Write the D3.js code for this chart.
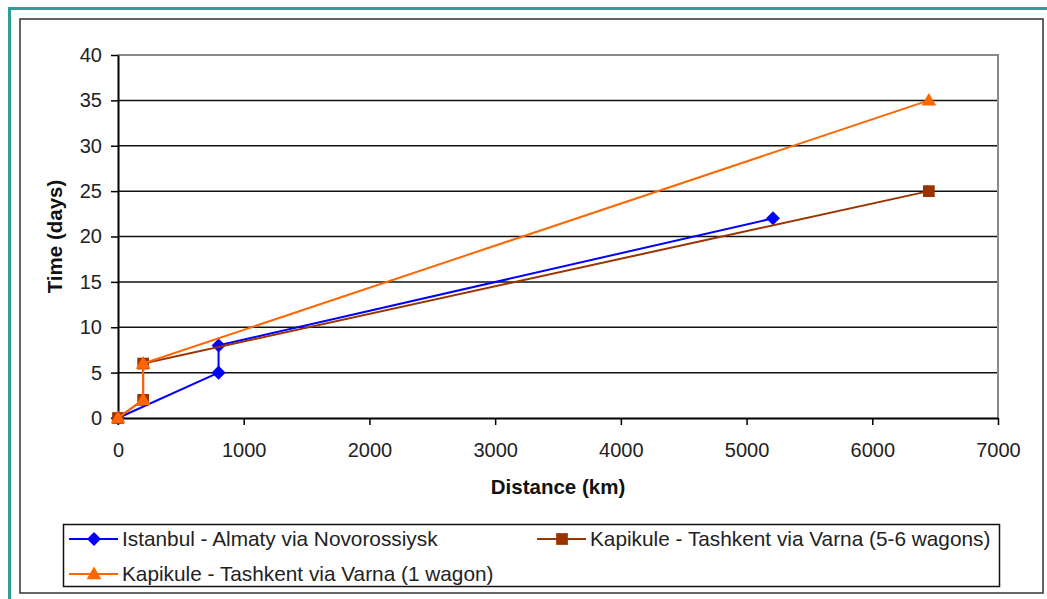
<!DOCTYPE html>
<html>
<head>
<meta charset="utf-8">
<script src="https://cdn.jsdelivr.net/npm/d3@7"></script>
<style>
  html, body { margin: 0; padding: 0; background: #fff; }
  svg { display: block; font-family: "Liberation Sans", Arial, sans-serif; }
</style>
</head>
<body>
<svg id="chart" width="1047" height="599"></svg>
<script>
// Travel time versus distance for three rail/ferry routes
const seriesNames = [
  "Istanbul - Almaty via Novorossiysk",
  "Kapikule - Tashkent via Varna (5-6 wagons)",
  "Kapikule - Tashkent via Varna (1 wagon)"
];
const almatyDistance = [0, 800, 800, 5210];
const almatyDays     = [0, 5, 8, 22];
const wagons56Distance = [0, 200, 200, 6450];
const wagons56Days     = [0, 2, 6, 25];
const wagon1Distance = [0, 200, 200, 6450];
const wagon1Days     = [0, 2, 6, 35];
const xTicks = [0, 1000, 2000, 3000, 4000, 5000, 6000, 7000];
const yTicks = [0, 5, 10, 15, 20, 25, 30, 35, 40];

const svg = d3.select("#chart");

// page frames
svg.append("path")
  .attr("d", "M9.5,599 V8.5 H1047")
  .attr("fill", "none").attr("stroke", "#2f9e99").attr("stroke-width", 3);
svg.append("rect")
  .attr("x", 20).attr("y", 19).attr("width", 1023).attr("height", 574)
  .attr("fill", "none").attr("stroke", "#333").attr("stroke-width", 1.5);

const x = d3.scaleLinear().domain([0, 7000]).range([118, 998]);
const y = d3.scaleLinear().domain([0, 40]).range([418, 55]);

// horizontal gridlines
svg.append("g").selectAll("line")
  .data(yTicks.filter(v => v > 0 && v < 40))
  .join("line")
  .attr("x1", x(0)).attr("x2", x(7000))
  .attr("y1", d => y(d)).attr("y2", d => y(d))
  .attr("stroke", "#111").attr("stroke-width", 1.5);

// plot border (top and right)
svg.append("path")
  .attr("d", `M${x(0)},${y(40)} H${x(7000)} V${y(0)}`)
  .attr("fill", "none").attr("stroke", "#8a8a8a").attr("stroke-width", 2);

// axes
const xAxis = svg.append("g")
  .attr("transform", `translate(0,${y(0)})`)
  .call(d3.axisBottom(x).tickValues(xTicks).tickFormat(d3.format("d"))
    .tickSize(7).tickPadding(18).tickSizeOuter(0));
const yAxis = svg.append("g")
  .attr("transform", `translate(${x(0)},0)`)
  .call(d3.axisLeft(y).tickValues(yTicks).tickFormat(d3.format("d"))
    .tickSize(7).tickPadding(9).tickSizeOuter(0));
[xAxis, yAxis].forEach(g => {
  g.select(".domain").attr("stroke", "#000").attr("stroke-width", 2);
  g.selectAll(".tick line").attr("stroke", "#000").attr("stroke-width", 1.5);
  g.selectAll(".tick text")
    .attr("font-family", "'Liberation Sans', Arial, sans-serif")
    .attr("font-size", 20).attr("fill", "#222");
});

// axis titles
svg.append("text")
  .attr("x", (x(0) + x(7000)) / 2).attr("y", 494)
  .attr("text-anchor", "middle").attr("font-size", 20.5).attr("font-weight", "bold")
  .attr("fill", "#111").text("Distance (km)");
svg.append("text")
  .attr("transform", `translate(62,${(y(0) + y(40)) / 2}) rotate(-90)`)
  .attr("text-anchor", "middle").attr("font-size", 20.5).attr("font-weight", "bold")
  .attr("fill", "#111").text("Time (days)");

const series = [
  { name: seriesNames[0], xs: almatyDistance, ys: almatyDays, color: "#0000ff", marker: "diamond" },
  { name: seriesNames[1], xs: wagons56Distance, ys: wagons56Days, color: "#993300", marker: "square" },
  { name: seriesNames[2], xs: wagon1Distance, ys: wagon1Days, color: "#ff6600", marker: "triangle" }
];

const symbolType = {
  diamond: d3.symbolDiamond2,
  square: d3.symbolSquare2,
  triangle: d3.symbolTriangle2
};
const symbolSize = { diamond: 125, square: 175, triangle: 155 };

function markerPath(kind) {
  return d3.symbol().type(symbolType[kind]).size(symbolSize[kind])();
}

const line = d3.line().x(d => x(d[0])).y(d => y(d[1]));

series.forEach(s => {
  const pts = s.xs.map((v, i) => [v, s.ys[i]]);
  const g = svg.append("g");
  g.append("path").datum(pts)
    .attr("d", line).attr("fill", "none")
    .attr("stroke", s.color).attr("stroke-width", 2);
  g.selectAll("path.mk").data(pts).join("path")
    .attr("class", "mk")
    .attr("transform", d => `translate(${x(d[0])},${y(d[1]) + (s.marker === "triangle" ? 1 : 0)})`)
    .attr("d", markerPath(s.marker))
    .attr("fill", s.color);
});

// legend
const legend = svg.append("g");
legend.append("rect")
  .attr("x", 63.5).attr("y", 524.5).attr("width", 936).attr("height", 62)
  .attr("fill", "#fff").attr("stroke", "#111").attr("stroke-width", 1.5);
const legendPos = [
  { lx: 69, ty: 539 },
  { lx: 537, ty: 539 },
  { lx: 69, ty: 574 }
];
series.forEach((s, i) => {
  const p = legendPos[i];
  const item = legend.append("g");
  item.append("line")
    .attr("x1", p.lx).attr("x2", p.lx + 49)
    .attr("y1", p.ty).attr("y2", p.ty)
    .attr("stroke", s.color).attr("stroke-width", 2);
  item.append("path")
    .attr("transform", `translate(${p.lx + 25},${p.ty + (s.marker === "triangle" ? 1 : 0)})`)
    .attr("d", markerPath(s.marker)).attr("fill", s.color);
  item.append("text")
    .attr("x", p.lx + 53).attr("y", p.ty).attr("dy", "0.35em")
    .attr("font-size", 20.8).attr("fill", "#222").text(s.name);
});
</script>
</body>
</html>
